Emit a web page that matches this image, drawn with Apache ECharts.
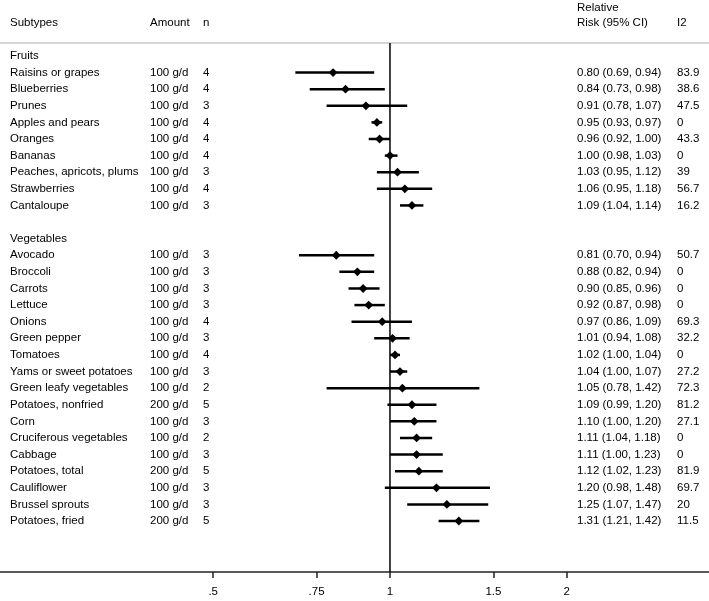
<!DOCTYPE html>
<html>
<head>
<meta charset="utf-8">
<script src="https://cdn.jsdelivr.net/npm/echarts@6/dist/echarts.min.js"></script>
<style>
html, body { margin: 0; padding: 0; background: #fff; }
#forest { width: 709px; height: 601px; }
</style>
</head>
<body>
<div id="forest"></div>
<script>
// 水果
var fruitNames = ['Raisins or grapes', 'Blueberries', 'Prunes', 'Apples and pears', 'Oranges', 'Bananas', 'Peaches, apricots, plums', 'Strawberries', 'Cantaloupe'];
var fruitAmount = ['100 g/d', '100 g/d', '100 g/d', '100 g/d', '100 g/d', '100 g/d', '100 g/d', '100 g/d', '100 g/d'];
var fruitN = [4, 4, 3, 4, 4, 4, 3, 4, 3];
var fruitRR = [0.80, 0.84, 0.91, 0.95, 0.96, 1.00, 1.03, 1.06, 1.09];
var fruitLo = [0.69, 0.73, 0.78, 0.93, 0.92, 0.98, 0.95, 0.95, 1.04];
var fruitHi = [0.94, 0.98, 1.07, 0.97, 1.00, 1.03, 1.12, 1.18, 1.14];
var fruitI2 = ['83.9', '38.6', '47.5', '0', '43.3', '0', '39', '56.7', '16.2'];

// 蔬菜
var vegNames = ['Avocado', 'Broccoli', 'Carrots', 'Lettuce', 'Onions', 'Green pepper', 'Tomatoes', 'Yams or sweet potatoes', 'Green leafy vegetables', 'Potatoes, nonfried', 'Corn', 'Cruciferous vegetables', 'Cabbage', 'Potatoes, total', 'Cauliflower', 'Brussel sprouts', 'Potatoes, fried'];
var vegAmount = ['100 g/d', '100 g/d', '100 g/d', '100 g/d', '100 g/d', '100 g/d', '100 g/d', '100 g/d', '100 g/d', '200 g/d', '100 g/d', '100 g/d', '100 g/d', '200 g/d', '100 g/d', '100 g/d', '200 g/d'];
var vegN = [3, 3, 3, 3, 4, 3, 4, 3, 2, 5, 3, 2, 3, 5, 3, 3, 5];
var vegRR = [0.81, 0.88, 0.90, 0.92, 0.97, 1.01, 1.02, 1.04, 1.05, 1.09, 1.10, 1.11, 1.11, 1.12, 1.20, 1.25, 1.31];
var vegLo = [0.70, 0.82, 0.85, 0.87, 0.86, 0.94, 1.00, 1.00, 0.78, 0.99, 1.00, 1.04, 1.00, 1.02, 0.98, 1.07, 1.21];
var vegHi = [0.94, 0.94, 0.96, 0.98, 1.09, 1.08, 1.04, 1.07, 1.42, 1.20, 1.20, 1.18, 1.23, 1.23, 1.48, 1.47, 1.42];
var vegI2 = ['50.7', '0', '0', '0', '69.3', '32.2', '0', '27.2', '72.3', '81.2', '27.1', '0', '0', '81.9', '69.7', '20', '11.5'];

// 坐标轴刻度
var tickValues = [0.5, 0.75, 1, 1.5, 2];
var tickLabels = ['.5', '.75', '1', '1.5', '2'];

var FONT = '"Liberation Sans", Arial, sans-serif';
var COL = { name: 10, amount: 150, n: 203, rr: 577, i2: 677 };

// 行
var rows = [];
function addGroup(title, names, amount, n, rr, lo, hi, i2) {
	rows.push({ title: title });
	for (var i = 0; i < names.length; i++) {
		rows.push({ name: names[i], amount: amount[i], n: n[i], rr: rr[i], lo: lo[i], hi: hi[i], i2: i2[i] });
	}
}
addGroup('Fruits', fruitNames, fruitAmount, fruitN, fruitRR, fruitLo, fruitHi, fruitI2);
rows.push({ blank: true });
addGroup('Vegetables', vegNames, vegAmount, vegN, vegRR, vegLo, vegHi, vegI2);

var ciData = [];
var textData = [];
rows.forEach(function(r, i) {
	textData.push([1, i]);
	if (r.rr !== undefined) ciData.push([r.rr, r.lo, r.hi, i]);
});

var yMin = -0.78, yMax = 31.07;

function txt(x, y, s) {
	return {
		type: 'text',
		style: { x: x, y: y, text: s, fill: '#000', font: '11.5px ' + FONT, textVerticalAlign: 'middle' }
	};
}

var chart = echarts.init(document.getElementById('forest'));
var option = {
	animation: false,
	backgroundColor: '#fff',
	grid: { left: 0, right: 0, top: 43, bottom: 29 },
	xAxis: {
		type: 'log',
		position: 'bottom',
		min: 0.2167,
		max: 3.494,
		axisLine: { show: true, onZero: false, lineStyle: { color: '#222', width: 1.5 } },
		axisTick: { show: true, customValues: tickValues, length: 6, lineStyle: { color: '#222', width: 1.5 } },
		axisLabel: {
			customValues: tickValues,
			margin: 14,
			color: '#000',
			fontSize: 11.5,
			fontFamily: FONT,
			formatter: function(v) {
				var k = tickValues.indexOf(+v);
				return k >= 0 ? tickLabels[k] : '';
			}
		},
		splitLine: { show: false },
		minorTick: { show: false }
	},
	yAxis: {
		type: 'value',
		inverse: true,
		min: yMin,
		max: yMax,
		show: false,
		splitLine: { show: false }
	},
	graphic: [
		{ type: 'line', shape: { x1: 0, y1: 43, x2: 709, y2: 43 }, style: { stroke: '#c8c8c8', lineWidth: 1.5 } },
		txt(COL.name, 23, 'Subtypes'),
		txt(COL.amount, 23, 'Amount'),
		txt(COL.n, 23, 'n'),
		txt(COL.rr, 8, 'Relative'),
		txt(COL.rr, 23, 'Risk (95% CI)'),
		txt(COL.i2, 23, 'I2')
	],
	series: [
		{
			// 参考线 RR = 1
			type: 'line',
			data: [[1, yMin], [1, yMax]],
			symbol: 'none',
			lineStyle: { color: '#000', width: 1.5 },
			silent: true
		},
		{
			type: 'custom',
			clip: false,
			data: ciData,
			encode: { x: [0, 1, 2], y: 3 },
			renderItem: function(params, api) {
				var row = api.value(3);
				var p = api.coord([api.value(0), row]);
				var a = api.coord([api.value(1), row]);
				var b = api.coord([api.value(2), row]);
				var r = 4.4;
				return {
					type: 'group',
					children: [
						{ type: 'line', shape: { x1: a[0], y1: a[1], x2: b[0], y2: b[1] }, style: { stroke: '#000', lineWidth: 2.5 } },
						{ type: 'polygon', shape: { points: [[p[0], p[1] - r], [p[0] + r, p[1]], [p[0], p[1] + r], [p[0] - r, p[1]]] }, style: { fill: '#000' } }
					]
				};
			}
		},
		{
			type: 'custom',
			clip: false,
			data: textData,
			encode: { x: 0, y: 1 },
			renderItem: function(params, api) {
				var r = rows[params.dataIndex];
				var y = api.coord([1, api.value(1)])[1];
				var kids = [];
				if (r.title) {
					kids.push(txt(COL.name, y, r.title));
				} else if (!r.blank) {
					kids.push(txt(COL.name, y, r.name));
					kids.push(txt(COL.amount, y, r.amount));
					kids.push(txt(COL.n, y, String(r.n)));
					kids.push(txt(COL.rr, y, r.rr.toFixed(2) + ' (' + r.lo.toFixed(2) + ', ' + r.hi.toFixed(2) + ')'));
					kids.push(txt(COL.i2, y, r.i2));
				}
				return { type: 'group', children: kids };
			}
		}
	]
};
chart.setOption(option);
</script>
</body>
</html>
